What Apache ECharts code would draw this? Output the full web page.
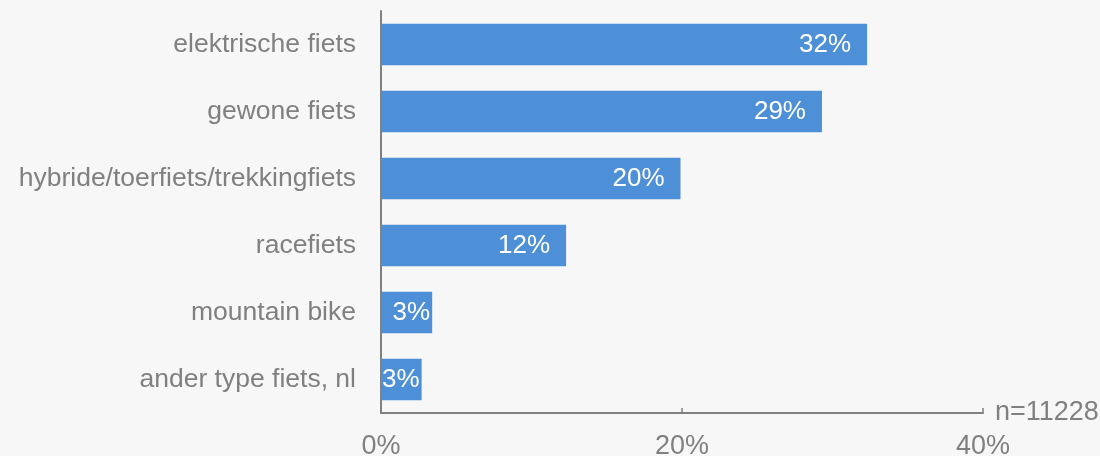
<!DOCTYPE html>
<html><head><meta charset="utf-8">
<script src="https://cdn.jsdelivr.net/npm/echarts@6/dist/echarts.min.js"></script>
<style>html,body{margin:0;padding:0;background:#f7f7f7;}#c{width:1100px;height:456px;}</style>
</head><body><div id="c"></div>
<script>
const categories = ['elektrische fiets','gewone fiets','hybride/toerfiets/trekkingfiets','racefiets','mountain bike','ander type fiets, nl'];
const values = [32.3, 29.3, 19.9, 12.3, 3.4, 2.7];
const labels = ['32%','29%','20%','12%','3%','3%'];
const xTicks = [0, 20, 40];
const sampleNote = 'n=11228';

const font = 'Liberation Sans, Arial, sans-serif';
const chart = echarts.init(document.getElementById('c'), null, {renderer:'canvas'});
const data = values.map((v,i)=>{
  const item = {value:v};
  if (v < 5) {
    item.label = i === values.length-1 ? {position:'insideLeft', distance:1} : {position:'insideRight', distance:2};
  }
  return item;
});
chart.setOption({
  backgroundColor:'#f7f7f7',
  animation:false,
  grid:{left:381, right:117, top:11, bottom:43, containLabel:false, outerBoundsMode:'none'},
  xAxis:{
    type:'value', min:xTicks[0], max:xTicks[xTicks.length-1], interval:xTicks[1]-xTicks[0],
    name: sampleNote, nameLocation:'end', nameGap:12,
    nameTextStyle:{color:'#808080', fontSize:27, fontFamily:font, verticalAlign:'middle', padding:[0,0,10,0]},
    axisLine:{show:true, lineStyle:{color:'#808080', width:2}},
    axisTick:{show:true, inside:true, length:5, lineStyle:{color:'#808080', width:1.5}},
    splitLine:{show:false},
    axisLabel:{color:'#808080', fontSize:27, fontFamily:font, margin:20, formatter:v=>v+'%'}
  },
  yAxis:{
    type:'category', data:categories, inverse:true,
    axisLine:{show:true, lineStyle:{color:'#808080', width:2}},
    axisTick:{show:false},
    axisLabel:{color:'#808080', fontSize:26.5, fontFamily:font, margin:25}
  },
  series:[{
    type:'bar', data:data, barCategoryGap:'38%',
    itemStyle:{color:'#4d90d8'},
    label:{show:true, position:'insideRight', distance:16, color:'#ffffff', fontSize:26, fontFamily:font,
      formatter:p=>labels[p.dataIndex]}
  }]
});
</script></body></html>
